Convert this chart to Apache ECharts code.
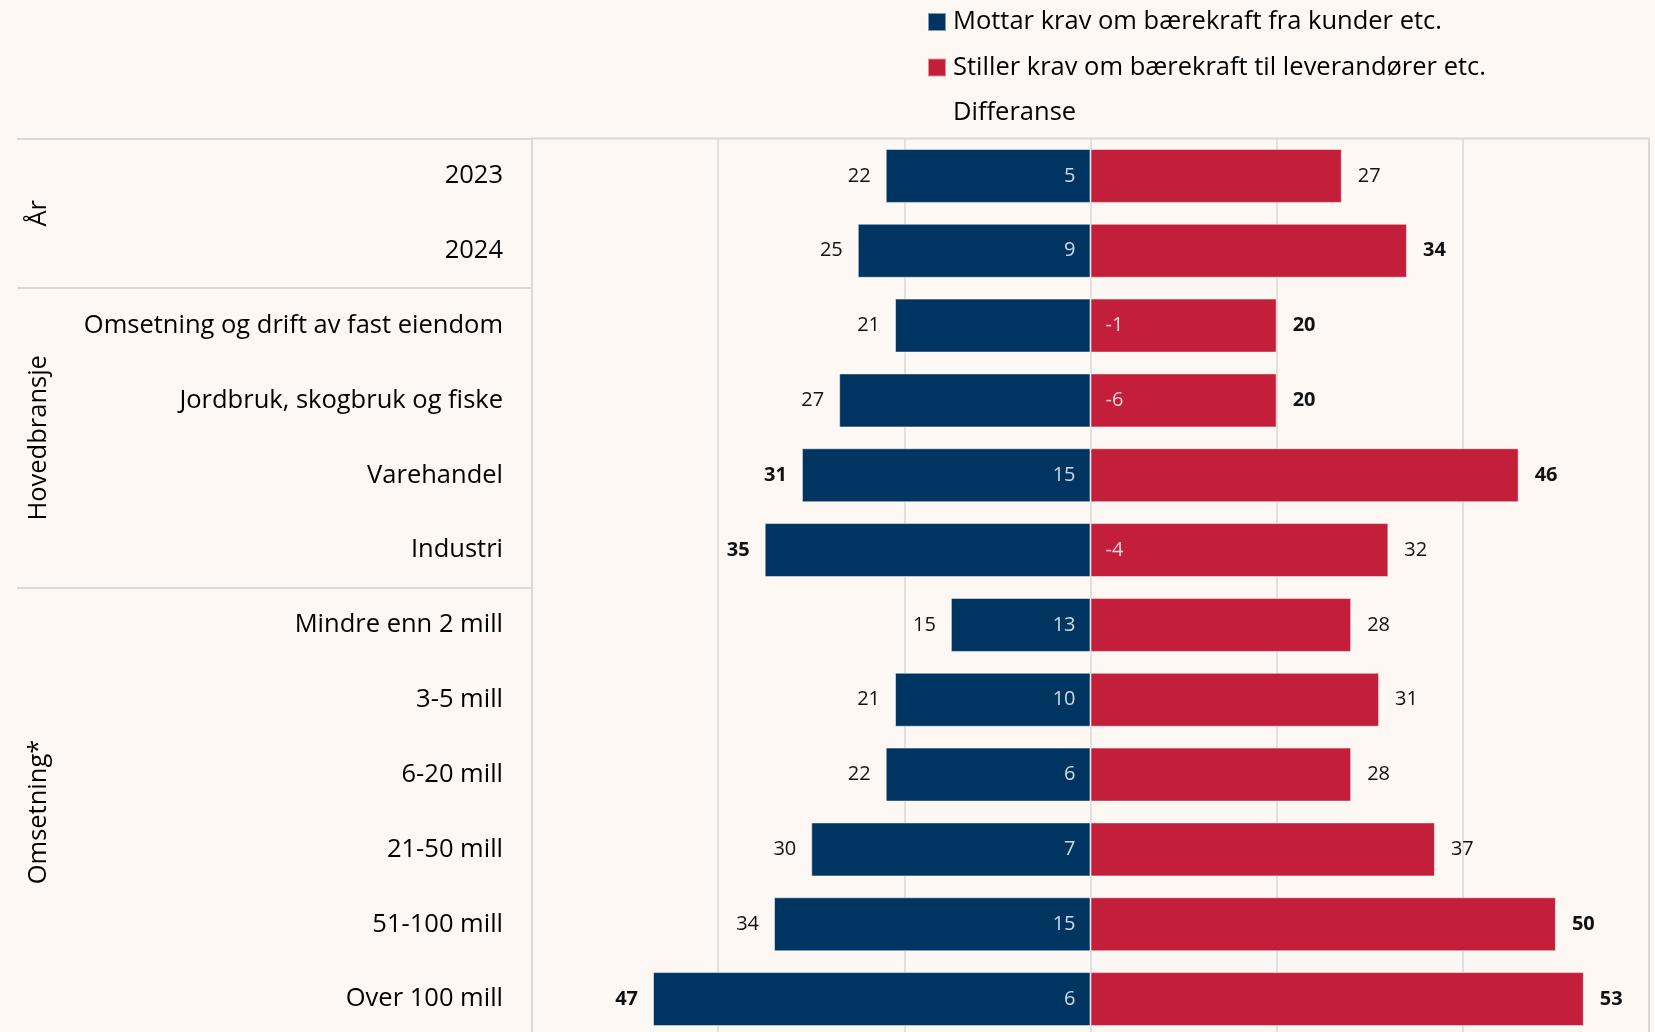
<!DOCTYPE html>
<html>
<head>
<meta charset="utf-8">
<script src="https://cdn.jsdelivr.net/npm/echarts@6/dist/echarts.min.js"></script>
<style>
    html, body { margin: 0; padding: 0; background: #fdf8f3; }
    #chart { width: 1655px; height: 1032px; }
</style>
</head>
<body>
<div id="chart"></div>
<script>
const categories = [
    '2023',
    '2024',
    'Omsetning og drift av fast eiendom',
    'Jordbruk, skogbruk og fiske',
    'Varehandel',
    'Industri',
    'Mindre enn 2 mill',
    '3-5 mill',
    '6-20 mill',
    '21-50 mill',
    '51-100 mill',
    'Over 100 mill',
];
const mottar = [ 22, 25, 21, 27, 31, 35, 15, 21, 22, 30, 34, 47 ];
const stiller = [ 27, 34, 20, 20, 46, 32, 28, 31, 28, 37, 50, 53 ];
const differanse = [ 5, 9, -1, -6, 15, -4, 13, 10, 6, 7, 15, 6 ];
// bold = significant values in the original
const mottarBold = [ 0, 0, 0, 0, 1, 1, 0, 0, 0, 0, 0, 1 ];
const stillerBold = [ 0, 1, 1, 1, 1, 0, 0, 0, 0, 0, 1, 1 ];
// group labels on the left: [name, first row, row count]
const groups = [
    [ 'År', 0, 2 ],
    [ 'Hovedbransje', 2, 4 ],
    [ 'Omsetning*', 6, 6 ],
];
const seriesNames = [
    'Mottar krav om bærekraft fra kunder etc.',
    'Stiller krav om bærekraft til leverandører etc.',
    'Differanse',
];

( () => {
    const FONT = 'Open Sans';
    const BLUE = '#003562';
    const RED = '#c41f3a';
    const GRID_COLOR = '#d9d9d9';

    const chart = echarts.init( document.getElementById( 'chart' ), null, { renderer: 'canvas' } );

    const groupCenters = groups.map( g => g[ 1 ] + g[ 2 ] / 2 );
    const groupEdges = [ 0 ].concat( groups.slice( 1 ).map( g => g[ 1 ] ) );

    const option = {
        backgroundColor: '#fdf8f3',
        animation: false,
        textStyle: { fontFamily: FONT },
        legend: {
            orient: 'vertical',
            left: 922,
            top: 3,
            itemWidth: 18,
            itemHeight: 18,
            itemGap: 17.5,
            selectedMode: false,
            textStyle: { fontSize: 25.5, color: '#000', lineHeight: 28, fontFamily: FONT, padding: [ 0, 0, 0, 2 ] },
            data: [
                { name: seriesNames[ 0 ], icon: 'rect' },
                { name: seriesNames[ 1 ], icon: 'rect' },
                { name: seriesNames[ 2 ], icon: 'none' },
            ],
        },
        grid: {
            left: 532,
            right: 6,
            top: 138.5,
            height: 898,
            outerBoundsMode: 'none',
            show: true,
            borderColor: GRID_COLOR,
            borderWidth: 2,
            backgroundColor: 'transparent',
        },
        xAxis: {
            type: 'value',
            min: -60,
            max: 60,
            interval: 20,
            axisLabel: { show: false },
            axisLine: { show: false },
            axisTick: { show: false },
            splitLine: { lineStyle: { color: GRID_COLOR, width: 1.5 } },
        },
        yAxis: [
            {
                type: 'category',
                inverse: true,
                data: categories,
                axisLine: { show: false },
                axisTick: { show: false },
                axisLabel: { fontSize: 25.5, color: '#000', margin: 29, fontFamily: FONT },
            },
            {
                type: 'value',
                inverse: true,
                min: 0,
                max: categories.length,
                position: 'left',
                axisLine: { show: true, lineStyle: { color: GRID_COLOR, width: 2 } },
                axisTick: {
                    show: true,
                    customValues: groupEdges,
                    length: 515,
                    lineStyle: { color: GRID_COLOR, width: 2 },
                },
                axisLabel: {
                    customValues: groupCenters,
                    rotate: 90,
                    margin: 480,
                    fontSize: 25.5,
                    color: '#000',
                    fontFamily: FONT,
                    formatter: v => {
                        const i = groupCenters.indexOf( v );
                        return i >= 0 ? groups[ i ][ 0 ] : '';
                    },
                },
                splitLine: { show: false },
            },
        ],
        series: [
            {
                name: seriesNames[ 0 ],
                type: 'bar',
                stack: 'krav',
                barWidth: 54,
                itemStyle: { color: BLUE, borderColor: 'rgba(255,255,255,0.5)', borderWidth: 1 },
                label: {
                    show: true,
                    position: 'left',
                    distance: 15,
                    fontSize: 20,
                    color: '#111',
                    formatter: p => Math.abs( p.value ),
                },
                data: mottar.map( ( v, i ) => ( {
                    value: -v,
                    label: { fontWeight: mottarBold[ i ] ? 'bold' : 'normal' },
                } ) ),
            },
            {
                name: seriesNames[ 1 ],
                type: 'bar',
                stack: 'krav',
                barWidth: 54,
                itemStyle: { color: RED, borderColor: 'rgba(255,255,255,0.5)', borderWidth: 1 },
                label: {
                    show: true,
                    position: 'right',
                    distance: 16,
                    fontSize: 20,
                    color: '#111',
                },
                data: stiller.map( ( v, i ) => ( {
                    value: v,
                    label: { fontWeight: stillerBold[ i ] ? 'bold' : 'normal' },
                } ) ),
            },
            {
                name: seriesNames[ 2 ],
                type: 'scatter',
                symbolSize: 0,
                z: 5,
                label: {
                    show: true,
                    distance: 15,
                    fontSize: 20,
                    color: '#fff',
                    formatter: p => differanse[ p.dataIndex ],
                },
                data: differanse.map( ( d, i ) => ( {
                    value: [ 0, i ],
                    label: { position: d >= 0 ? 'left' : 'right' },
                } ) ),
            },
        ],
    };

    chart.setOption( option );

    window.addEventListener( 'resize', () => {
        chart.resize();
    } );
} ) ();
</script>
</body>
</html>
